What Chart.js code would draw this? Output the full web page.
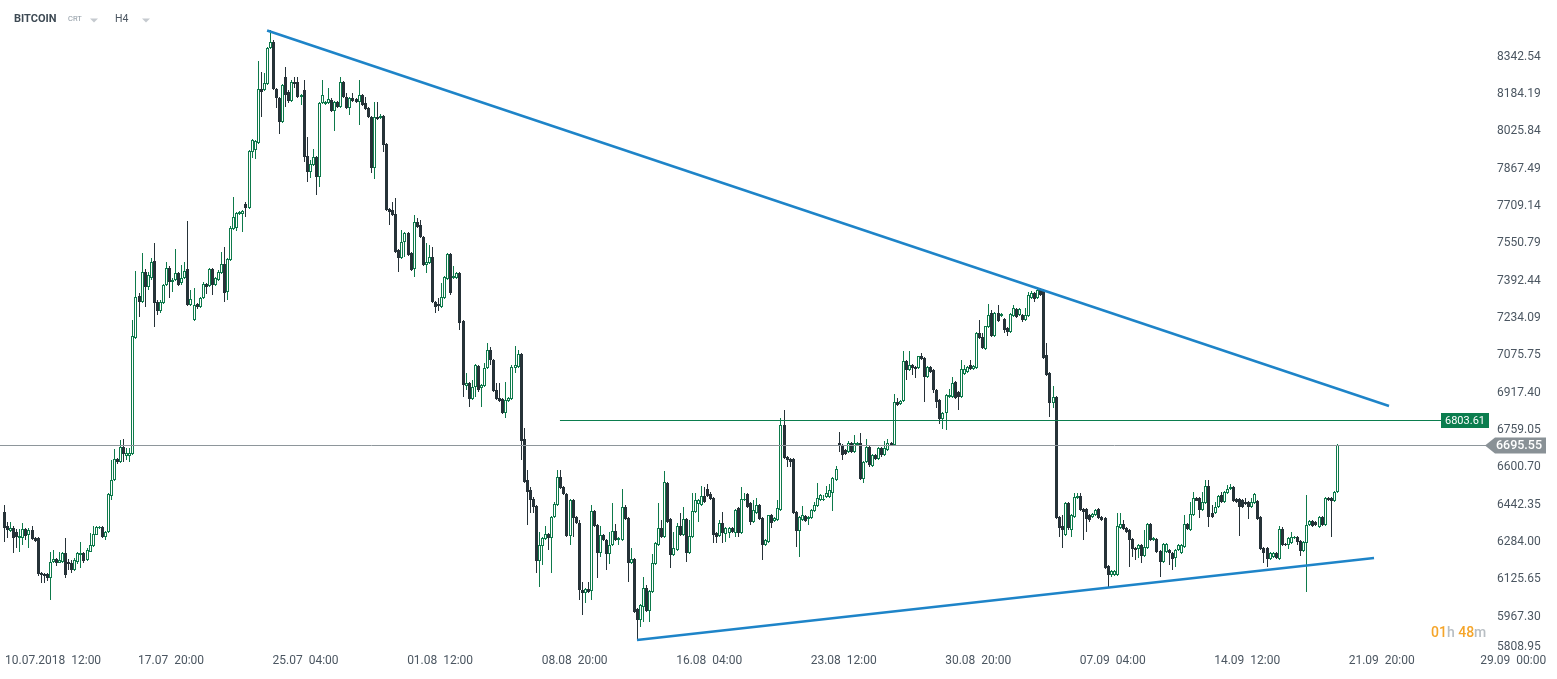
<!DOCTYPE html>
<html>
<head>
<meta charset="utf-8">
<title>BITCOIN H4</title>
<script src="https://cdn.jsdelivr.net/npm/chart.js@4.4.1/dist/chart.umd.min.js"></script>
<style>
  html, body { margin: 0; padding: 0; background: #ffffff; }
  #wrap { position: relative; width: 1557px; height: 679px; }
  canvas { display: block; }
</style>
</head>
<body>
<div id="wrap"><canvas id="btcChart" width="1557" height="679"></canvas></div>
<script>
// BITCOIN CRT, H4 candles (one entry per candle)
const opens = [
  6412,6352,6331,6343,6327,6301,6301,6339,6314,6335,
  6301,6301,6152,6148,6148,6131,6199,6212,6195,6199,
  6237,6199,6195,6165,6199,6229,6237,6208,6242,6267,
  6314,6343,6348,6305,6327,6479,6547,6636,6623,6687,
  6649,6649,6657,7149,7327,7302,7429,
  7366,7404,7476,7302,7264,7298,7374,7446,7387,7395,
  7425,7383,7404,7442,7289,7226,7293,7281,7319,7378,
  7370,7442,7374,7395,7425,7463,7344,7480,7612,7616,
  7675,7675,7718,7701,7938,7947,7976,8205,8201,8227,
  8379,8405,8205,8167,8065,8256,8193,8155,8235,
  8235,8172,8201,7921,7853,7883,7917,7832,8146,8142,
  8146,8159,8112,8150,8129,8235,8172,8125,8167,8163,
  8150,8180,8146,8125,8087,7870,8087,8082,8091,7972,
  7696,7692,7675,7523,7489,7557,7595,7510,7442,7641,
  7629,7578,7459,7467,7493,7302,7293,
  7281,7319,7400,7506,7404,7404,7425,7221,6946,6958,
  6890,6941,7030,6937,6946,7022,7098,7056,6929,6895,
  6890,6831,6882,6890,7022,7026,7081,6721,6547,6504,
  6466,6437,6203,6267,6297,6318,6301,6390,6441,6560,
  6517,6487,6309,6462,6390,6365,
  6080,6068,6085,6076,6415,6356,6237,6314,6292,6233,
  6271,6331,6292,6292,6432,6386,6195,6212,5999,5953,
  6008,6089,5991,6072,6191,6271,6343,6305,6534,6381,
  6229,6250,6352,6314,6381,6237,6305,6411,6445,6441,
  6479,6509,6487,6471,6322,6309,6365,6318,6322,
  6343,6322,6428,6322,6462,6487,6449,6369,6407,6441,
  6386,6271,6284,6398,6373,6377,6420,6780,6644,6636,
  6636,6411,6331,6377,6394,6381,6386,6415,6437,6462,
  6462,6475,6475,6492,6547,6704,6695,6674,6666,6704,
  6666,6695,6704,6551,6623,6687,6606,6653,6636,
  6683,6653,6674,6704,6695,6878,6869,6882,7052,7013,
  7035,7026,7022,7073,7064,6984,7026,7013,6929,6886,
  6806,6831,6899,6899,6963,6920,6899,6996,7005,7035,
  7018,7022,7170,7153,7102,7196,7255,7158,7255,7242,
  7230,7192,7175,7242,7272,
  7247,7247,7226,7242,7319,7340,7319,7353,7353,7077,
  7001,6874,6899,6390,6352,6314,6449,6335,6390,6471,
  6479,6424,6424,6398,6390,6398,6424,6390,6386,6182,
  6144,6144,6144,6343,6360,6343,6335,6297,6259,6254,
  6271,6225,6259,6360,6292,6297,6246,6199,
  6242,6250,6237,6216,6250,6237,6263,6360,6335,6398,
  6471,6471,6420,6449,6521,6407,6407,6432,6483,6454,
  6492,6509,6517,6466,6466,6462,6454,6454,6432,6449,
  6458,6390,6259,6259,6212,6220,6237,6212,6339,6275,
  6271,6280,6301,6305,6288,6246,6280,6356,6373,6369,
  6348,6390,6356,6471,6471,6458,6496
];
const highs = [
  6441,6369,6369,6352,6339,6339,6365,6343,6343,6352,
  6305,6305,6157,6152,6152,6242,6250,6216,6242,6242,
  6301,6212,6208,6216,6242,6284,6242,6259,6322,6352,
  6352,6352,6352,6331,6492,6632,6678,6640,6717,6721,
  6683,6683,7226,7433,7340,7510,7442,
  7429,7489,7552,7310,7310,7378,7472,7455,7404,7527,
  7429,7459,7472,7646,7353,7361,7298,7323,7387,7383,
  7446,7446,7408,7438,7514,7535,7489,7624,7747,7684,
  7688,7692,7726,7947,7993,7989,8324,8278,8273,8384,
  8456,8413,8210,8172,8227,8299,8201,8244,8256,
  8256,8184,8244,8002,7904,7951,7921,8150,8244,8155,
  8210,8167,8155,8155,8256,8239,8188,8172,8188,8167,
  8244,8184,8172,8129,8091,8150,8150,8099,8095,7976,
  7701,7726,7743,7527,7607,7599,7599,7514,7671,7658,
  7650,7582,7552,7544,7535,7306,7319,
  7383,7412,7510,7510,7455,7429,7429,7226,7001,6963,
  6971,7039,7035,6954,7043,7128,7111,7060,6958,6958,
  6895,6963,6899,7035,7115,7098,7086,6767,6589,6517,
  6475,6441,6326,6305,6352,6322,6394,6454,6589,6589,
  6521,6492,6466,6466,6394,6377,
  6114,6089,6114,6441,6420,6360,6352,6318,6297,6326,
  6449,6360,6305,6509,6441,6390,6259,6216,6004,6021,
  6135,6102,6080,6233,6284,6449,6377,6585,6538,6386,
  6326,6365,6407,6432,6386,6377,6492,6492,6466,6521,
  6517,6530,6496,6475,6326,6377,6411,6348,6348,
  6348,6424,6432,6517,6492,6492,6454,6462,6471,6445,
  6390,6297,6398,6403,6390,6462,6810,6844,6649,6640,
  6640,6415,6394,6437,6398,6394,6424,6454,6534,6487,
  6483,6521,6530,6560,6606,6750,6700,6678,6712,6708,
  6738,6708,6746,6627,6721,6691,6657,6657,6687,
  6687,6712,6721,6708,6912,6895,6886,7094,7056,7094,
  7039,7030,7073,7086,7069,7030,7030,7018,6933,6890,
  6835,6912,6933,6984,6967,6924,7056,7035,7030,7056,
  7035,7175,7226,7170,7200,7293,7268,7260,7289,7255,
  7234,7196,7255,7289,7276,
  7276,7251,7276,7344,7349,7344,7366,7361,7357,7128,
  7005,6946,6903,6394,6398,6454,6454,6403,6492,6492,
  6492,6428,6428,6403,6407,6424,6428,6394,6390,6186,
  6165,6165,6407,6407,6377,6348,6339,6301,6263,6275,
  6275,6335,6364,6364,6305,6301,6250,6280,
  6280,6254,6242,6254,6275,6275,6398,6364,6454,6496,
  6475,6475,6496,6547,6547,6441,6454,6483,6496,6500,
  6526,6530,6521,6471,6471,6466,6471,6458,6471,6492,
  6462,6394,6263,6263,6242,6242,6242,6352,6348,6280,
  6305,6327,6309,6309,6292,6288,6483,6377,6377,6373,
  6394,6394,6475,6475,6475,6500,6700
];
const lows = [
  6284,6301,6327,6237,6259,6242,6271,6292,6259,6292,
  6284,6140,6110,6110,6119,6038,6195,6182,6195,6195,
  6131,6165,6152,6161,6191,6174,6195,6203,6242,6263,
  6314,6339,6301,6292,6322,6462,6543,6615,6619,6623,
  6632,6623,6653,7145,7238,7298,7281,
  7353,7395,7196,7247,7255,7293,7370,7319,7344,7391,
  7370,7374,7400,7285,7285,7221,7272,7276,7315,7336,
  7366,7332,7370,7391,7421,7302,7310,7476,7607,7603,
  7671,7599,7662,7697,7913,7909,7972,8087,8197,8222,
  8375,8201,8125,8015,8061,8129,8146,8150,8210,
  8167,8138,7896,7811,7828,7879,7756,7790,8142,8138,
  8142,8108,8027,8125,8125,8167,8121,8095,8150,8146,
  8053,8133,8116,8082,7849,7824,8074,8078,7938,7688,
  7629,7667,7510,7429,7484,7493,7497,7433,7408,7616,
  7573,7455,7425,7463,7298,7255,7264,
  7276,7315,7395,7332,7400,7400,7183,6899,6929,6857,
  6886,6899,6920,6857,6941,7018,7035,6920,6886,6878,
  6827,6810,6878,6886,7001,7022,6632,6534,6356,6407,
  6407,6152,6093,6186,6292,6250,6152,6386,6437,6509,
  6483,6305,6271,6305,6360,6038,
  5974,6025,6068,6038,6348,6131,6220,6288,6165,6191,
  6267,6288,6271,6288,6377,6114,6191,5983,5868,5923,
  5945,5987,5945,6068,6186,6267,6301,6301,6365,6174,
  6225,6246,6309,6309,6199,6233,6301,6407,6369,6437,
  6449,6475,6462,6280,6280,6305,6280,6284,6301,
  6322,6305,6305,6318,6458,6428,6356,6365,6403,6377,
  6208,6267,6280,6343,6369,6373,6415,6636,6602,6602,
  6403,6263,6220,6373,6369,6356,6381,6411,6432,6458,
  6458,6471,6471,6415,6543,6666,6632,6653,6661,6661,
  6661,6691,6547,6534,6619,6602,6602,6632,6632,
  6644,6649,6670,6691,6691,6861,6865,6878,6971,7009,
  6992,6980,7018,7056,6878,6980,7001,6916,6852,6784,
  6763,6759,6895,6895,6890,6844,6895,6992,7001,7013,
  7013,7018,7145,7102,7098,7192,7153,7153,7217,7238,
  7170,7158,7170,7238,7234,
  7242,7217,7221,7238,7315,7302,7315,7327,7060,6988,
  6814,6852,6381,6305,6259,6309,6335,6305,6386,6466,
  6415,6292,6327,6369,6386,6394,6381,6373,6169,6093,
  6135,6140,6140,6339,6335,6322,6178,6220,6208,6216,
  6195,6220,6254,6288,6288,6237,6135,6195,
  6237,6186,6165,6178,6246,6233,6259,6335,6331,6394,
  6458,6386,6415,6445,6348,6386,6403,6428,6449,6449,
  6487,6504,6454,6449,6309,6428,6441,6381,6428,6445,
  6377,6250,6195,6178,6208,6216,6212,6208,6267,6267,
  6254,6275,6297,6271,6225,6242,6072,6352,6348,6352,
  6343,6352,6352,6458,6305,6454,6492
];
const closes = [
  6343,6335,6343,6301,6305,6309,6339,6309,6335,6297,
  6288,6148,6144,6140,6131,6199,6212,6195,6208,6237,
  6144,6191,6165,6208,6237,6237,6203,6250,6271,6318,
  6348,6348,6305,6327,6487,6547,6636,6623,6687,6657,
  6661,6661,7158,7323,7302,7429,7366,
  7417,7472,7298,7264,7302,7374,7446,7387,7395,7425,
  7374,7404,7433,7289,7315,7289,7281,7319,7378,7366,
  7442,7374,7404,7429,7463,7340,7484,7616,7662,7679,
  7684,7688,7701,7942,7989,7985,8205,8193,8231,8379,
  8405,8205,8167,8065,8222,8180,8155,8235,8227,
  8172,8180,7917,7853,7887,7917,7832,8146,8180,8150,
  8163,8112,8150,8129,8235,8172,8125,8167,8155,8150,
  8180,8138,8121,8087,7870,8087,8078,8091,7968,7692,
  7684,7671,7514,7489,7557,7595,7501,7438,7641,7620,
  7578,7459,7472,7493,7302,7281,7285,
  7323,7408,7506,7340,7412,7425,7213,6950,6958,6890,
  6941,7035,6929,6950,7022,7098,7056,6924,6890,6882,
  6831,6886,6895,7026,7035,7081,6712,6538,6496,6462,
  6432,6203,6271,6301,6318,6301,6390,6445,6560,6513,
  6487,6309,6462,6386,6365,6080,
  6068,6085,6072,6415,6352,6237,6314,6292,6233,6271,
  6331,6292,6301,6432,6381,6195,6212,5987,5953,6017,
  6089,5991,6076,6195,6280,6343,6305,6538,6369,6229,
  6259,6352,6314,6381,6237,6309,6415,6462,6462,6479,
  6454,6479,6466,6314,6305,6365,6322,6343,6343,
  6327,6420,6322,6466,6466,6432,6369,6420,6441,6381,
  6271,6292,6398,6365,6386,6428,6780,6640,6632,6623,
  6407,6331,6390,6398,6373,6390,6420,6441,6471,6483,
  6466,6492,6504,6555,6594,6695,6653,6657,6704,6666,
  6704,6704,6551,6623,6687,6610,6653,6636,6683,
  6653,6683,6704,6695,6878,6865,6882,7052,7013,7035,
  7022,7018,7073,7060,6984,7026,7005,6929,6878,6806,
  6831,6907,6907,6958,6895,6899,7018,7018,7026,7018,
  7030,7170,7149,7107,7200,7247,7158,7255,7221,7251,
  7183,7175,7251,7276,7238,
  7272,7226,7247,7332,7340,7315,7353,7332,7064,6992,
  6874,6899,6386,6343,6335,6449,6343,6398,6475,6479,
  6420,6411,6381,6377,6403,6420,6386,6377,6174,6144,
  6161,6161,6352,6360,6339,6327,6292,6254,6250,6271,
  6225,6263,6360,6292,6301,6242,6199,6275,
  6275,6237,6212,6250,6271,6271,6360,6339,6403,6471,
  6458,6420,6454,6521,6390,6390,6432,6479,6454,6496,
  6509,6517,6458,6454,6432,6432,6445,6432,6454,6487,
  6381,6254,6237,6212,6237,6237,6216,6339,6271,6271,
  6301,6305,6305,6284,6246,6284,6356,6373,6352,6356,
  6390,6356,6471,6462,6458,6496,6695.55
];

// axis texts
const yTickLabels = ['8342.54','8184.19','8025.84','7867.49','7709.14','7550.79','7392.44','7234.09',
  '7075.75','6917.40','6759.05','6600.70','6442.35','6284.00','6125.65','5967.30','5808.95'];
const xTickLabels = ['10.07.2018  12:00','17.07  20:00','25.07  04:00','01.08  12:00','08.08  20:00',
  '16.08  04:00','23.08  12:00','30.08  20:00','07.09  04:00','14.09  12:00','21.09  20:00','29.09  00:00'];
const xTickPos = [10.5, 54.5, 98.5, 142.5, 186.5, 230.5, 274.5, 318.5, 362.5, 406.5, 450.5, 493.5];

// drawings on the chart (candle index, price)
const upperTrend = [{x: 85.9, y: 8454}, {x: 452.9, y: 6861}];
const lowerTrend = [{x: 206.9, y: 5868}, {x: 448.0, y: 6216}];
const levelPrice = 6803.61;
const levelStart = 181.7;
const lastPrice = 6695.55;

if (opens.length !== closes.length || highs.length !== closes.length || lows.length !== closes.length) {
  throw new Error('length mismatch ' + [opens.length, highs.length, lows.length, closes.length].join(','));
}

const UP = '#0e7a4b';
const DOWN = '#263238';
const BLUE = '#1e84c8';
const TEXT = '#4b5661';

const bodies = closes.map((c, i) => ({x: i, y: [opens[i], c]}));
const wicks = closes.map((c, i) => ({x: i, y: [lows[i], highs[i]]}));
const isUp = closes.map((c, i) => c >= opens[i]);

// snap candle bars to whole pixels so they stay crisp
const pixelSnap = {
  id: 'pixelSnap',
  beforeDatasetsDraw(chart) {
    chart.data.datasets.forEach((ds, di) => {
      const meta = chart.getDatasetMeta(di);
      if (meta.type !== 'bar') return;
      meta.data.forEach(el => {
        el.x = Math.floor(el.x) + 0.5;
        el.y = Math.round(el.y);
        el.base = Math.round(el.base);
      });
    });
  }
};

const overlay = {
  id: 'overlay',
  afterDraw(chart) {
    const {ctx, scales: {x, y}} = chart;
    ctx.save();

    // horizontal levels
    const yLast = Math.round(y.getPixelForValue(lastPrice)) + 0.5;
    const yLevel = Math.round(y.getPixelForValue(levelPrice)) + 0.5;
    ctx.lineWidth = 1;
    ctx.strokeStyle = '#8e969b';
    ctx.beginPath(); ctx.moveTo(0, yLast); ctx.lineTo(1486, yLast); ctx.stroke();
    ctx.lineWidth = 1.2;
    ctx.strokeStyle = '#0b7d4e';
    ctx.beginPath(); ctx.moveTo(x.getPixelForValue(levelStart), yLevel); ctx.lineTo(1441, yLevel); ctx.stroke();

    // level box
    ctx.fillStyle = '#0b7d4e';
    ctx.fillRect(1441, yLevel - 7.5, 48, 15);
    ctx.fillStyle = '#ffffff';
    ctx.font = '11px Roboto';
    ctx.textAlign = 'center';
    ctx.textBaseline = 'middle';
    ctx.fillText(levelPrice.toFixed(2), 1465, yLevel + 0.5);

    // y labels
    ctx.font = '12px Roboto';
    ctx.textAlign = 'left';
    ctx.fillStyle = TEXT;
    yTickLabels.forEach(t => {
      const py = Math.min(y.getPixelForValue(parseFloat(t)), 647);
      ctx.fillText(t, 1497, py);
    });

    // last price tag
    ctx.fillStyle = '#899196';
    ctx.beginPath();
    ctx.moveTo(1485, yLast);
    ctx.lineTo(1495, yLast - 8);
    ctx.lineTo(1546, yLast - 8);
    ctx.lineTo(1546, yLast + 8);
    ctx.lineTo(1495, yLast + 8);
    ctx.closePath();
    ctx.fill();
    ctx.fillStyle = '#ffffff';
    ctx.font = '500 12.5px Roboto';
    ctx.textAlign = 'center';
    ctx.fillText(lastPrice.toFixed(2), 1519, yLast + 0.5);

    // x labels
    ctx.font = '12px Roboto';
    ctx.fillStyle = TEXT;
    ctx.textAlign = 'left';
    xTickLabels.forEach((t, k) => {
      const w = ctx.measureText(t).width;
      const left = Math.max(5, x.getPixelForValue(xTickPos[k]) - w / 2);
      ctx.fillText(t, left, 661);
    });

    // candle countdown
    let cx = 1431;
    ctx.font = '500 14px Roboto';
    [['01', '#f5a52a'], ['h ', '#b8bec3'], ['48', '#f5a52a'], ['m', '#b8bec3']].forEach(([s, col]) => {
      ctx.fillStyle = col;
      ctx.fillText(s, cx, 633.5);
      cx += ctx.measureText(s).width;
    });

    // header
    ctx.fillStyle = '#3e4a54';
    ctx.font = 'bold 11px Roboto';
    ctx.fillText('BITCOIN', 14, 19);
    ctx.fillStyle = '#8d98a2';
    ctx.font = '7.5px Roboto';
    ctx.fillText('CRT', 68, 19.5);
    ctx.fillStyle = TEXT;
    ctx.font = '10.5px Roboto';
    ctx.fillText('H4', 115, 19);
    ctx.fillStyle = '#c5cacf';
    [90, 142].forEach(tx => {
      ctx.beginPath();
      ctx.moveTo(tx, 18.5); ctx.lineTo(tx + 8, 18.5); ctx.lineTo(tx + 4, 22.5);
      ctx.closePath(); ctx.fill();
    });

    ctx.restore();
  }
};

new Chart(document.getElementById('btcChart').getContext('2d'), {
  type: 'bar',
  data: {
    datasets: [
      {
        type: 'line',
        data: upperTrend,
        borderColor: BLUE,
        borderWidth: 2.5,
        pointRadius: 0,
        order: 0
      },
      {
        type: 'line',
        data: lowerTrend,
        borderColor: BLUE,
        borderWidth: 2.5,
        pointRadius: 0,
        order: 0
      },
      {
        label: 'body',
        data: bodies,
        backgroundColor: isUp.map(u => u ? '#ffffff' : DOWN),
        borderColor: isUp.map(u => u ? UP : DOWN),
        borderWidth: 1,
        borderSkipped: false,
        barThickness: 3,
        minBarLength: 1,
        inflateAmount: 0,
        grouped: false,
        order: 1
      },
      {
        label: 'wick',
        data: wicks,
        backgroundColor: isUp.map(u => u ? UP : DOWN),
        borderWidth: 0,
        barThickness: 1,
        inflateAmount: 0,
        grouped: false,
        order: 2
      }
    ]
  },
  options: {
    responsive: false,
    animation: false,
    devicePixelRatio: 1,
    layout: { padding: 0 },
    plugins: {
      legend: { display: false },
      tooltip: { enabled: false }
    },
    scales: {
      x: { type: 'linear', min: -1.47, max: 507.85, offset: false, display: false },
      y: { type: 'linear', min: 5702.95, max: 8583.2, display: false }
    }
  },
  plugins: [pixelSnap, overlay]
});
</script>
</body>
</html>
